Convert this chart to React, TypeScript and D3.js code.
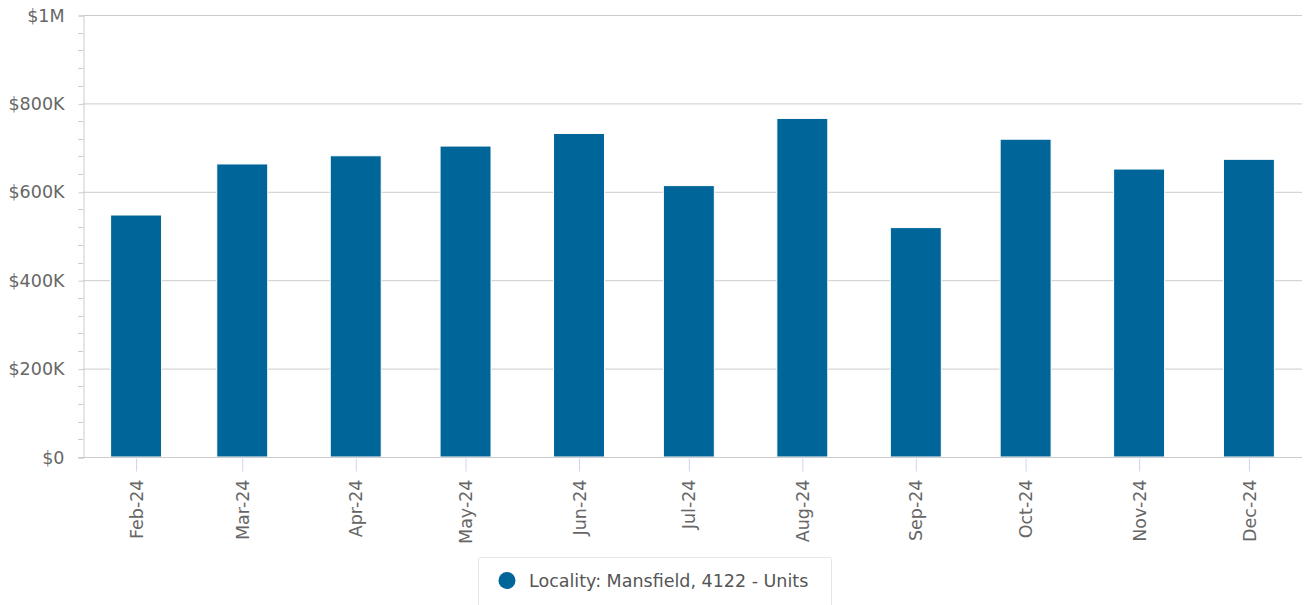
import * as d3 from "d3";
import React, { useEffect, useRef } from "react";

// Month of each bar (first day of month) and its value in dollars.
const months = [
  "2024-02-01", "2024-03-01", "2024-04-01", "2024-05-01", "2024-06-01", "2024-07-01",
  "2024-08-01", "2024-09-01", "2024-10-01", "2024-11-01", "2024-12-01",
];
const values = [547500, 663000, 681500, 703500, 732000, 614000, 766000, 519000, 719000, 651500, 673500];
const yTicks = [0, 200000, 400000, 600000, 800000, 1000000];
const yTickLabels = ["$0", "$200K", "$400K", "$600K", "$800K", "$1M"];
const seriesName = "Locality: Mansfield, 4122 - Units";

export default function App() {
  const ref = useRef<SVGSVGElement>(null);

  useEffect(() => {
    const width = 1306;
    const height = 605;
    const margin = { top: 15, right: 4, bottom: 148, left: 83 };
    const font = "'DejaVu Sans', Verdana, sans-serif";
    const fontSize = "17.5px";
    const barColor = "#006699";

    d3.select(ref.current).selectAll("*").remove();
    const svg = d3.select(ref.current);

    const parse = d3.utcParse("%Y-%m-%d");
    const dates = months.map((m) => parse(m) as Date);
    const day = 24 * 3600 * 1000;
    // Padding of half the shortest gap between points (29 days) on each side.
    const halfRange = 14.5 * day;

    const x = d3
      .scaleUtc()
      .domain([+dates[0] - halfRange, +dates[dates.length - 1] + halfRange])
      .range([margin.left, width - margin.right]);
    const y = d3
      .scaleLinear()
      .domain([0, 1000000])
      .range([height - margin.bottom, margin.top]);

    const bandPx = x(+dates[0] + 29 * day) - x(dates[0]);
    const barW = bandPx * 0.48;

    // Gridlines
    svg
      .append("g")
      .selectAll("line")
      .data(yTicks.slice(1))
      .join("line")
      .attr("x1", margin.left)
      .attr("x2", width - margin.right)
      .attr("y1", (d) => y(d) + 0.5)
      .attr("y2", (d) => y(d) + 0.5)
      .attr("stroke", "#cccccc")
      .attr("stroke-width", 1);

    // Minor ticks on the y axis (every 40K)
    const minor = d3.range(0, 1000001, 40000).filter((v) => v % 200000 !== 0);
    svg
      .append("g")
      .selectAll("line")
      .data(minor)
      .join("line")
      .attr("x1", margin.left - 5)
      .attr("x2", margin.left)
      .attr("y1", (d) => Math.round(y(d)) + 0.5)
      .attr("y2", (d) => Math.round(y(d)) + 0.5)
      .attr("stroke", "#cccccc");

    // Y axis
    const yAxis = d3
      .axisLeft(y)
      .tickValues(yTicks)
      .tickFormat((_, i) => yTickLabels[i])
      .tickSize(5)
      .tickPadding(14);
    svg
      .append("g")
      .attr("transform", `translate(${margin.left + 0.5},0.5)`)
      .call(yAxis)
      .call((g) => g.select(".domain").attr("stroke", "#cccccc"))
      .call((g) => g.selectAll(".tick line").attr("stroke", "#cccccc"))
      .call((g) =>
        g
          .selectAll(".tick text")
          .attr("fill", "#666666")
          .style("font-family", font)
          .style("font-size", fontSize)
      );

    // Bars
    svg
      .append("g")
      .selectAll("rect")
      .data(values)
      .join("rect")
      .attr("x", (_, i) => x(dates[i]) - barW / 2)
      .attr("y", (d) => y(d))
      .attr("width", barW)
      .attr("height", (d) => y(0) - y(d))
      .attr("fill", barColor)
      .attr("stroke", "#ffffff")
      .attr("stroke-width", 1);

    // X axis
    const xAxis = d3
      .axisBottom(x)
      .tickValues(dates)
      .tickFormat((d) => d3.utcFormat("%b-%y")(d as Date))
      .tickSize(14)
      .tickSizeOuter(0);
    svg
      .append("g")
      .attr("transform", `translate(0,${y(0) + 0.5})`)
      .call(xAxis)
      .call((g) => g.select(".domain").attr("stroke", "#cccccc").attr("d", `M${margin.left - 5},0H${width - margin.right}`))
      .call((g) => g.selectAll(".tick line").attr("stroke", "#ccd6eb").attr("y1", 1))
      .call((g) =>
        g
          .selectAll(".tick text")
          .attr("fill", "#666666")
          .style("font-family", font)
          .style("font-size", fontSize)
          .style("text-anchor", "end")
          .attr("transform", "rotate(-90)")
          .attr("x", -22)
          .attr("y", 0)
          .attr("dy", "0.35em")
      );

    // Legend
    const legend = svg.append("g");
    legend
      .append("rect")
      .attr("x", 478.5)
      .attr("y", 557.5)
      .attr("width", 353)
      .attr("height", 60)
      .attr("rx", 2)
      .attr("fill", "#ffffff")
      .attr("stroke", "#e6e6e6");
    legend
      .append("circle")
      .attr("cx", 507)
      .attr("cy", 580.5)
      .attr("r", 8.5)
      .attr("fill", barColor);
    legend
      .append("text")
      .attr("x", 529)
      .attr("y", 587)
      .attr("fill", "#555555")
      .style("font-family", font)
      .style("font-size", fontSize)
      .text(seriesName);
  }, []);

  return (
    <svg
      ref={ref}
      width={1306}
      height={605}
      style={{ position: "absolute", left: 0, top: 0, display: "block", background: "#ffffff" }}
    ></svg>
  );
}
